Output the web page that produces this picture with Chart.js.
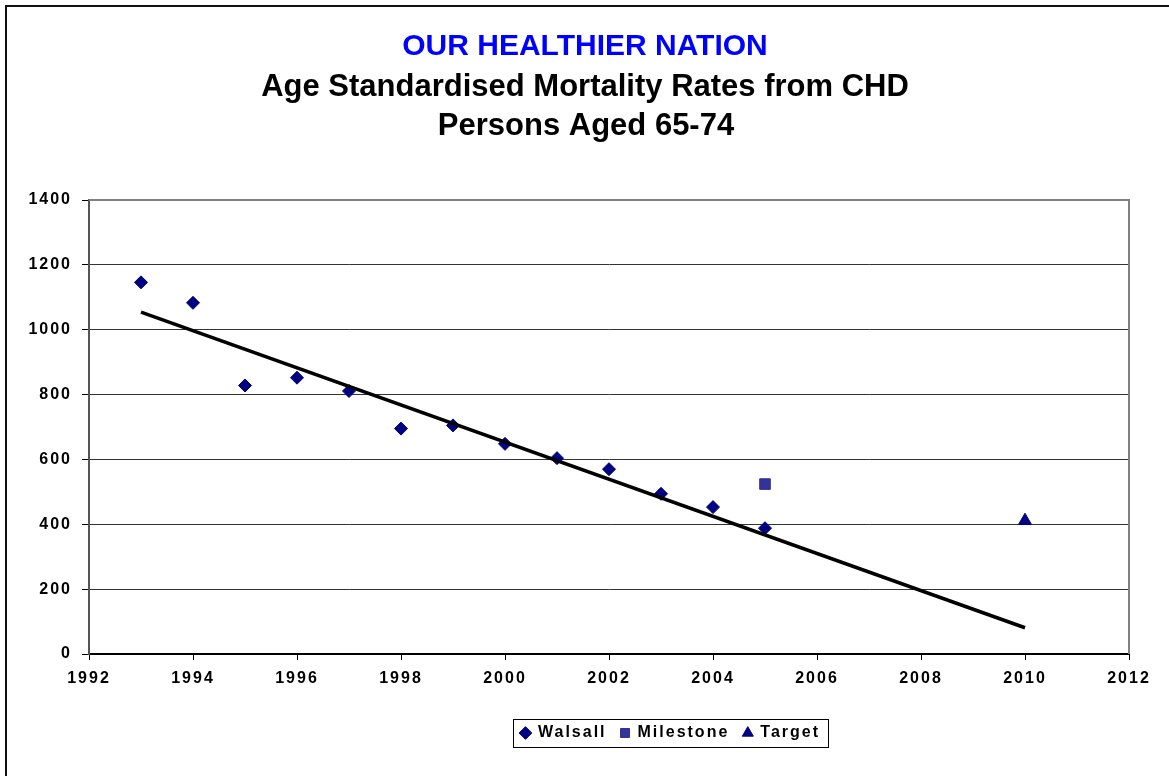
<!DOCTYPE html>
<html>
<head>
<meta charset="utf-8">
<title>Our Healthier Nation - CHD mortality, persons aged 65-74</title>
<script src="https://cdn.jsdelivr.net/npm/chart.js@4.4.1/dist/chart.umd.min.js"></script>
<style>
  html, body { margin: 0; padding: 0; background: #fff; overflow: hidden; }
  #frame { position: absolute; left: 5px; top: 5px; width: 1300px; height: 900px; border: 2px solid #111; box-sizing: border-box; }
  #wrap { position: absolute; left: 0; top: 0; width: 1169px; height: 776px; }
</style>
</head>
<body>
<div id="frame"></div>
<div id="wrap"><canvas id="chdChart" width="1169" height="776"></canvas></div>
<script>
// chart values
const years = [1993, 1994, 1995, 1996, 1997, 1998, 1999, 2000, 2001, 2002, 2003, 2004, 2005];
const walsall = [1146, 1083, 828, 852, 811, 695, 705, 648, 604, 570, 494, 453, 388];
const milestoneYears = [2005];
const milestone = [524];
const targetYears = [2010];
const target = [411];
// linear trend through the Walsall points (end points)
const trendYears = [1993, 2010];
const trendValues = [1054, 81];

const xTicks = [1992, 1994, 1996, 1998, 2000, 2002, 2004, 2006, 2008, 2010, 2012];
const yTicks = [0, 200, 400, 600, 800, 1000, 1200, 1400];

const titles = ['OUR HEALTHIER NATION', 'Age Standardised Mortality Rates from CHD', 'Persons Aged 65-74'];

const FONT = '"Liberation Sans", Arial, Helvetica, sans-serif';

function toPoints(xs, ys) {
    return xs.map((x, i) => ({ x: x, y: ys[i] }));
}

// titles, plot frame, legend box and letter spacing like the original
const excelLook = {
    id: 'excelLook',
    beforeLayout(chart) {
        chart.ctx.letterSpacing = '2px';
    },
    afterLayout(chart) {
        // legend sits to the right of centre in the original
        chart.legend.left += 106;
        chart.legend.right += 106;
    },
    beforeDraw(chart) {
        const ctx = chart.ctx;
        ctx.save();
        ctx.letterSpacing = '0px';
        ctx.textAlign = 'center';
        ctx.textBaseline = 'middle';
        ctx.fillStyle = '#0000ff';
        ctx.font = 'bold 30px ' + FONT;
        ctx.fillText(titles[0], 585, 47);
        ctx.fillStyle = '#000';
        ctx.font = 'bold 31px ' + FONT;
        ctx.fillText(titles[1], 585, 87);
        ctx.fillText(titles[2], 586, 126);
        ctx.restore();
        ctx.letterSpacing = '2px';
    },
    beforeDatasetsDraw(chart) {
        const a = chart.chartArea;
        const ctx = chart.ctx;
        ctx.save();
        ctx.strokeStyle = '#808080';
        ctx.lineWidth = 2;
        ctx.beginPath();
        ctx.moveTo(a.left, a.top);
        ctx.lineTo(a.right, a.top);
        ctx.lineTo(a.right, a.bottom);
        ctx.stroke();
        ctx.restore();
    },
    afterDraw(chart) {
        const boxes = chart.legend.legendHitBoxes;
        if (!boxes || !boxes.length) return;
        let left = Infinity, right = -Infinity, top = Infinity, bottom = -Infinity;
        boxes.forEach(b => {
            left = Math.min(left, b.left);
            right = Math.max(right, b.left + b.width);
            top = Math.min(top, b.top);
            bottom = Math.max(bottom, b.top + b.height);
        });
        const ctx = chart.ctx;
        ctx.save();
        ctx.strokeStyle = '#000';
        ctx.lineWidth = 1;
        ctx.strokeRect(Math.round(left - 8) + 0.5, Math.round(top - 6) + 0.5,
            Math.round(right - left + 16), Math.round(bottom - top + 12));
        ctx.restore();
    }
};

function drawChart() {
    const ctx = document.getElementById('chdChart').getContext('2d');
    const chart = new Chart(ctx, {
        type: 'scatter',
        data: {
            datasets: [{
                label: 'Trend',
                data: toPoints(trendYears, trendValues),
                showLine: true,
                borderColor: '#000',
                borderWidth: 3.5,
                pointRadius: 0
            }, {
                label: 'Walsall',
                data: toPoints(years, walsall),
                pointStyle: 'rectRot',
                pointRadius: 6.5,
                backgroundColor: '#000080',
                borderColor: '#000080',
                borderWidth: 1
            }, {
                label: 'Milestone',
                data: toPoints(milestoneYears, milestone),
                pointStyle: 'rect',
                pointRadius: 7.5,
                backgroundColor: '#333399',
                borderColor: '#333399',
                borderWidth: 1
            }, {
                label: 'Target',
                data: toPoints(targetYears, target),
                pointStyle: 'triangle',
                pointRadius: 7.5,
                backgroundColor: '#000080',
                borderColor: '#000080',
                borderWidth: 1
            }]
        },
        options: {
            responsive: false,
            animation: false,
            layout: { padding: { top: 200, right: 40, bottom: 25, left: 0 } },
            plugins: {
                title: { display: false },
                tooltip: { enabled: false },
                legend: {
                    position: 'bottom',
                    labels: {
                        usePointStyle: true,
                        boxWidth: 9,
                        boxHeight: 9,
                        padding: 14,
                        color: '#000',
                        font: { family: FONT, size: 16, weight: 'bold' },
                        filter: item => item.text !== 'Trend'
                    }
                }
            },
            scales: {
                x: {
                    type: 'linear',
                    min: 1992,
                    max: 2012,
                    afterBuildTicks: scale => { scale.ticks = xTicks.map(v => ({ value: v })); },
                    afterFit: scale => { scale.height = 57; },
                    ticks: {
                        color: '#000',
                        padding: 9,
                        maxRotation: 0,
                        autoSkip: false,
                        font: { family: FONT, size: 16, weight: 'bold' },
                        callback: v => String(v)
                    },
                    grid: { drawOnChartArea: false, drawTicks: true, tickLength: 6, color: '#000', lineWidth: 1 },
                    border: { color: '#000', width: 2 }
                },
                y: {
                    min: 0,
                    max: 1400,
                    afterBuildTicks: scale => { scale.ticks = yTicks.map(v => ({ value: v })); },
                    afterFit: scale => { scale.width = 89; },
                    ticks: {
                        color: '#000',
                        padding: 10,
                        font: { family: FONT, size: 16, weight: 'bold' },
                        callback: v => String(v)
                    },
                    grid: { color: '#333', lineWidth: 1, tickLength: 7, tickColor: '#000' },
                    border: { color: '#555', width: 2 }
                }
            }
        },
        plugins: [excelLook]
    });
    console.log('chart area', chart.chartArea, 'legend', chart.legend.legendHitBoxes);
}

window.onload = drawChart;
</script>
</body>
</html>
